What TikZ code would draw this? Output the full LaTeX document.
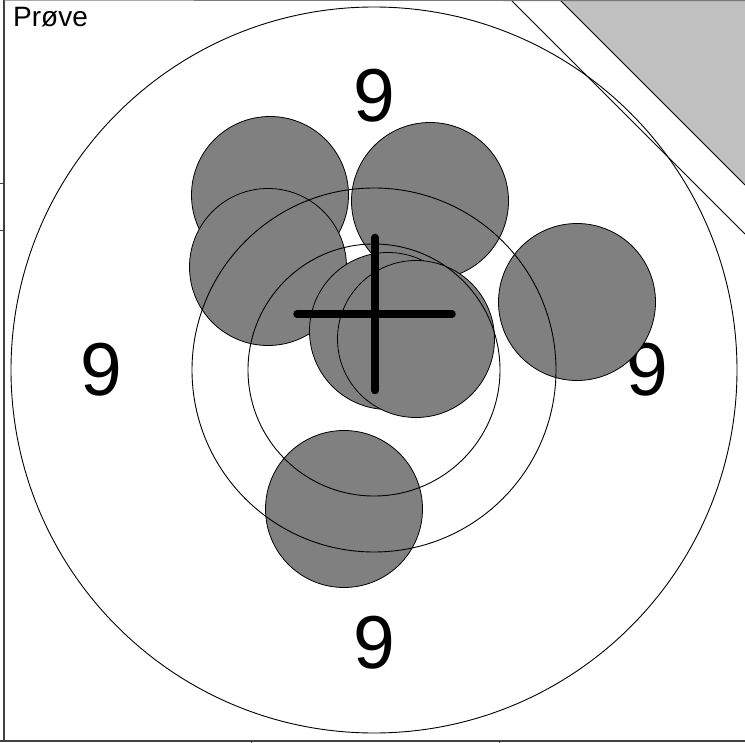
\documentclass[tikz,border=0pt]{standalone}
\usepackage{fontspec}
\setmainfont{Liberation Sans}
\definecolor{shotgray}{RGB}{128,128,128}
\definecolor{cornergray}{RGB}{192,192,192}
\definecolor{framegray}{RGB}{64,64,64}
\begin{document}
\begin{tikzpicture}[x=1pt,y=-1pt,
  ring/.style={draw=black,line width=0.9pt},
  shot/.style={circle,draw=black,fill=shotgray,line width=0.8pt,minimum size=157pt,inner sep=0pt},
  ninelabel/.style={font=\fontsize{75}{75}\selectfont,inner sep=0pt},
  crossline/.style={line width=7.5pt,line cap=round},
  frameline/.style={draw=framegray,line width=1.6pt}]
\useasboundingbox (0,0) rectangle (745,743);
% corner triangle
\fill[cornergray] (560,0) -- (745,0) -- (745,185) -- cycle;
\coordinate (t1) at (560,0);
\coordinate (t2) at (745,185);
\draw[line width=0.9pt] (t1) -- (t2);
% tangent line
\coordinate (d1) at (511,0);
\coordinate (d2) at (745,234);
\draw[line width=0.9pt] (d1) -- (d2);
% outer circle
\coordinate (c) at (374,370);
\draw[ring] (c) circle (363);
% labels
\node[ninelabel] (ntop) at (374,96) {9};
\node[ninelabel] (nleft) at (101,370) {9};
\node[ninelabel] (nright) at (647,370) {9};
\node[ninelabel] (nbot) at (374,643) {9};
\node[anchor=base west,inner sep=0pt,font=\fontsize{28}{28}\selectfont] (title) at (13,26.5) {Prøve};
% shots
\node[shot] (s1) at (270,195) {};
\node[shot] (s2) at (430,201) {};
\node[shot] (s3) at (268,267) {};
\node[shot] (s4) at (577,302) {};
\node[shot] (s5) at (388,331) {};
\node[shot] (s6) at (416,339) {};
\node[shot] (s7) at (344,509) {};
% rings
\draw[ring] (c) circle (182);
\draw[ring] (c) circle (126);
% cross
\coordinate (ch1) at (297,314);
\coordinate (ch2) at (452,314);
\coordinate (cv1) at (375,237.5);
\coordinate (cv2) at (375,390.5);
\draw[crossline] (ch1) -- (ch2);
\draw[crossline] (cv1) -- (cv2);
% frame
\coordinate (f1) at (4,0);
\coordinate (f2) at (4,741);
\coordinate (f3) at (745,741);
\coordinate (f4) at (745,0.6);
\draw[frameline] (f1) -- (f2);
\draw[frameline] (0,741) -- (f3);
\draw[draw=framegray!70,line width=1.2pt] (f1) -- (f4);
\draw[draw=framegray,line width=0.9pt] (0,183) -- (4,183);
\draw[draw=framegray,line width=0.9pt] (0,230) -- (4,230);
\draw[draw=framegray,line width=0.9pt] (251,741) -- (251,743);
\draw[draw=framegray,line width=0.9pt] (499,741) -- (499,743);
\end{tikzpicture}
\end{document}
